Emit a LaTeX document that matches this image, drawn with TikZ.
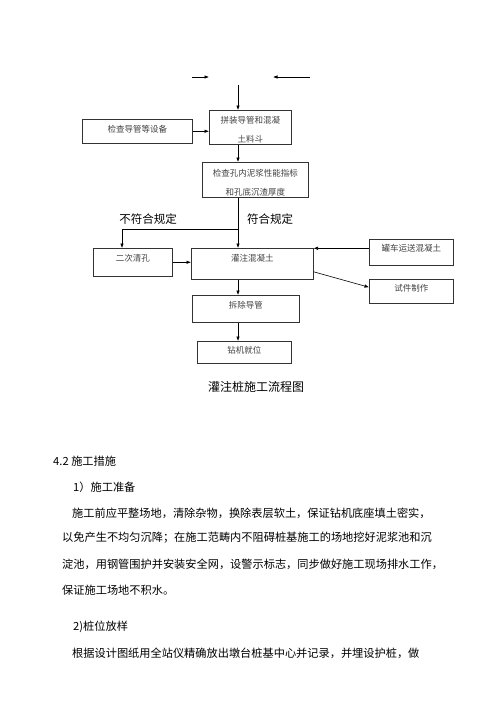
\documentclass[tikz,border=0pt]{standalone}
\usepackage{fontspec}
\setmainfont{Noto Sans CJK SC}
\usetikzlibrary{arrows.meta}

\begin{document}
\begin{tikzpicture}[x=1pt, y=-1pt,
  flow/.style={draw=black!80, line width=0.5pt, anchor=north west, inner sep=0pt, align=center, text=black!75, font=\fontsize{8.5}{19}\selectfont},
  arr/.style={-{Latex[length=4.5pt,width=3.5pt]}, line width=0.6pt},
  tag/.style={inner sep=0pt, font=\fontsize{11.5}{14}\selectfont},
  para/.style={inner sep=0pt, anchor=west, font=\fontsize{11.2}{14}\selectfont}]
  \useasboundingbox (0,0) rectangle (500,707);
  % Boxes of the flow chart
  \node[flow, minimum width=110pt, text height=13pt, text depth=11pt] (chk) at (82,119) {检查导管等设备};
  \node[flow, minimum width=82pt, text height=32pt, text depth=2pt] (asm) at (209,110) {拼装导管和混凝\\土料斗};
  \node[flow, minimum width=106pt, text height=33pt, text depth=2pt] (mud) at (202,162) {检查孔内泥浆性能指标\\和孔底沉渣厚度};
  \node[flow, minimum width=122pt, text height=13pt, text depth=18pt] (pour) at (191,248) {灌注混凝土};
  \node[flow, minimum width=79pt, text height=13pt, text depth=15pt] (clean) at (93,248) {二次清孔};
  \node[flow, minimum width=84pt, text height=12pt, text depth=14pt] (truck) at (369,239) {罐车运送混凝土};
  \node[flow, minimum width=84pt, text height=12pt, text depth=12pt] (test) at (369,279) {试件制作};
  \node[flow, minimum width=107pt, text height=13pt, text depth=14pt] (pull) at (192,295) {拆除导管};
  \node[flow, minimum width=94pt, text height=12pt, text depth=10pt] (rig) at (197,341) {钻机就位};
  \coordinate (la1) at (192,77);
  \coordinate (la2) at (209,77);
  \coordinate (ra1) at (310,77);
  \coordinate (ra2) at (273,77);
  \coordinate (top) at (238,85);
  \coordinate (split) at (238,229);
  \coordinate (bend) at (122,229);
  \node[tag] (no) at (148,219) {不符合规定};
  \node[tag] (yes) at (270,219) {符合规定};
  % Draw the connectors
  \draw[arr] (la1) -- (la2);
  \draw[arr] (ra1) -- (ra2);
  \draw[arr] (top) -- (top |- asm.north);
  \draw[arr] (chk) -- (chk -| asm.west);
  \draw[arr] (asm.south -| top) -- (mud.north -| top);
  \draw[arr] (mud.south -| top) -- (pour.north -| top);
  \draw[arr] (split) -- (bend) -- (bend |- clean.north);
  \draw[arr] (clean) -- (clean -| pour.west);
  \draw[arr] ([yshift=4pt]truck.west) -- ([yshift=4pt]truck.west -| pour.east);
  \draw[arr] ([yshift=-8pt]pour.east) -- ([yshift=4pt]test.west);
  \draw[arr] (pour.south -| top) -- (pull.north -| top);
  \draw[arr] (pull.south -| top) -- (rig.north -| top);
  \node[tag, font=\fontsize{12}{14}\selectfont] (title) at (256,387) {灌注桩施工流程图};
  % Text below the chart
  \node[para] (sec) at (53,461) {4.2 施工措施};
  \node[para] (prep) at (73,487) {1）施工准备};
  \node[para] (p1) at (72,513) {施工前应平整场地，清除杂物，换除表层软土，保证钻机底座填土密实，};
  \node[para] (p2) at (62,538) {以免产生不均匀沉降；在施工范畴内不阻碍桩基施工的场地挖好泥浆池和沉};
  \node[para] (p3) at (62,564) {淀池，用钢管围护并安装安全网，设警示标志，同步做好施工现场排水工作，};
  \node[para] (p4) at (62,590) {保证施工场地不积水。};
  \node[para] (lay) at (73,627) {2)桩位放样};
  \node[para] (p5) at (72,653) {根据设计图纸用全站仪精确放出墩台桩基中心并记录，并埋设护桩，做};
\end{tikzpicture}
\end{document}
